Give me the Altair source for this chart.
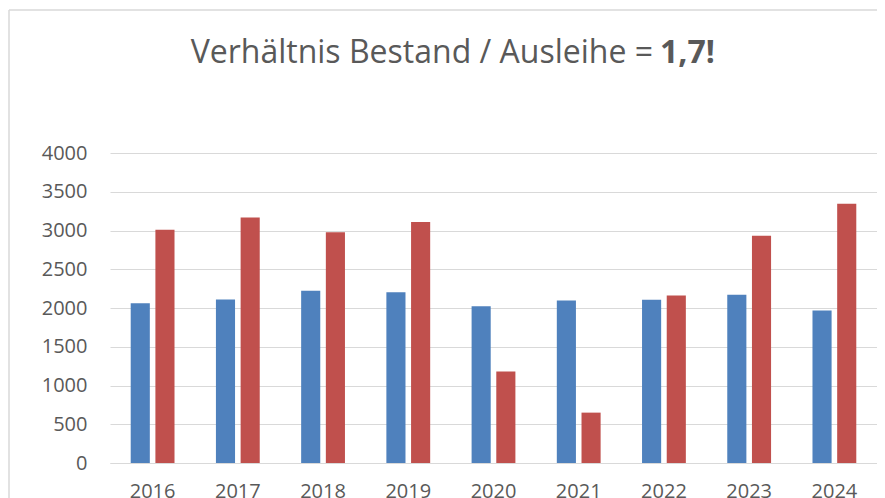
import altair as alt
import pandas as pd

years = ["2016", "2017", "2018", "2019", "2020", "2021", "2022", "2023", "2024"]
series_blue = [2062, 2110, 2222, 2204, 2023, 2097, 2106, 2170, 1968]
series_red = [3010, 3169, 2979, 3109, 1180, 650, 2162, 2933, 3346]
series_names = ["Reihe 1", "Reihe 2"]
series_colors = ["#4F81BD", "#C0504D"]
y_ticks = [0, 500, 1000, 1500, 2000, 2500, 3000, 3500, 4000]
title_main = "Verhältnis Bestand / Ausleihe ="
title_bold = "1,7!"

rows = []
for i, y in enumerate(years):
    rows.append({"Jahr": y, "Reihe": series_names[0], "Wert": series_blue[i]})
    rows.append({"Jahr": y, "Reihe": series_names[1], "Wert": series_red[i]})
df = pd.DataFrame(rows)

FONT = "Open Sans"
GREY = "#595959"
GRID = "#D9D9D9"

bars = alt.Chart(df).mark_bar().encode(
    x=alt.X(
        "Jahr:N",
        sort=years,
        scale=alt.Scale(paddingInner=0.486, paddingOuter=0.243),
        axis=alt.Axis(
            title=None, labelAngle=0, labelFont=FONT, labelFontSize=20,
            labelColor=GREY, ticks=False, domainColor=GRID, labelPadding=18,
        ),
    ),
    xOffset=alt.XOffset(
        "Reihe:N", sort=series_names,
        scale=alt.Scale(paddingInner=0.226, paddingOuter=0),
    ),
    y=alt.Y(
        "Wert:Q",
        scale=alt.Scale(domain=[0, 4000]),
        axis=alt.Axis(
            title=None, values=y_ticks, format="d", grid=True, gridColor=GRID,
            gridWidth=1.2, domain=False, ticks=False, labelFont=FONT,
            labelFontSize=20, labelColor=GREY, labelPadding=23,
        ),
    ),
    color=alt.Color(
        "Reihe:N",
        scale=alt.Scale(domain=series_names, range=series_colors),
        legend=None,
    ),
)

one = pd.DataFrame({"t": [title_main], "b": [title_bold]})

t_main = alt.Chart(one).mark_text(
    font=FONT, fontSize=32, color=GREY, align="right", baseline="alphabetic"
).encode(text="t:N", x=alt.value(543), y=alt.value(-90))

t_bold = alt.Chart(one).mark_text(
    font=FONT, fontSize=32, fontWeight="bold", color=GREY, align="left",
    baseline="alphabetic"
).encode(text="b:N", x=alt.value(550), y=alt.value(-90))

border_left = alt.Chart(one).mark_rule(color=GRID, strokeWidth=1.5).encode(
    x=alt.value(-101), y=alt.value(-143), y2=alt.value(400)
)
border_top = alt.Chart(one).mark_rule(color=GRID, strokeWidth=1.5).encode(
    x=alt.value(-101), x2=alt.value(800), y=alt.value(-143)
)

chart = alt.layer(bars, t_main, t_bold, border_left, border_top).properties(
    width=767,
    height=310,
    autosize=alt.AutoSizeParams(type="none"),
    padding={"left": 102, "top": 145, "right": 0, "bottom": 35},
).configure_view(stroke=None)

chart.save("out.html", embed_options={"renderer": "svg", "actions": False})
